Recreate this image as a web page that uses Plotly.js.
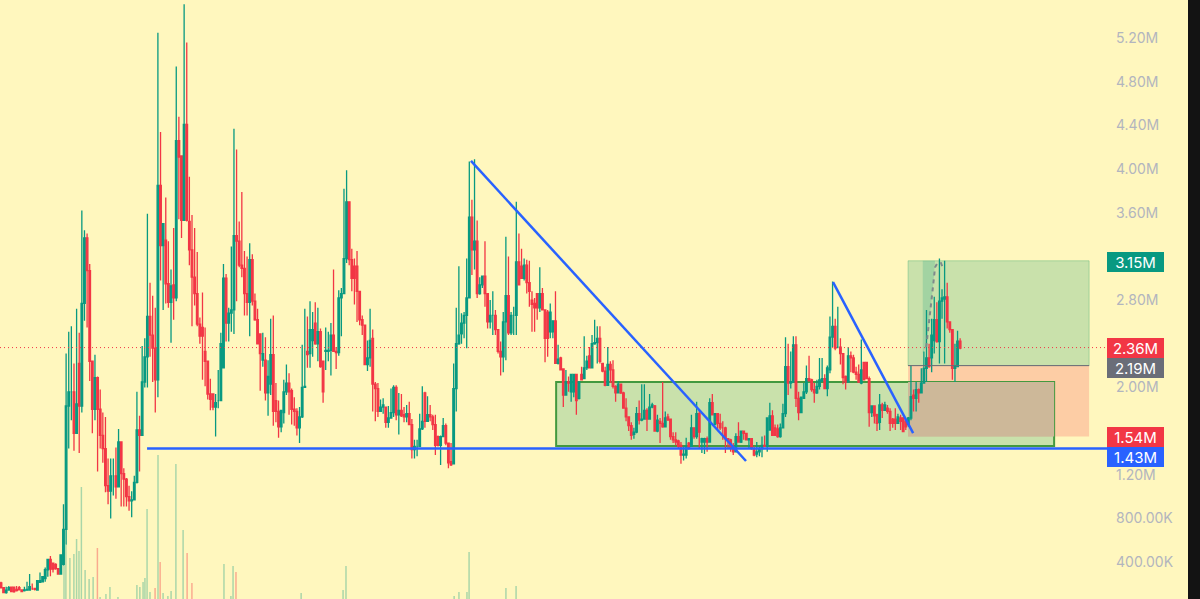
<!DOCTYPE html>
<html><head><meta charset="utf-8">
<script src="https://cdn.plot.ly/plotly-3.0.1.min.js"></script>
<style>html,body{margin:0;padding:0;background:#131313;overflow:hidden}#c{width:1188px;height:599px}</style></head>
<body><div id="c"></div>
<script>
// candle rows are [open, high, low, close], in millions
const earlyBase = [[.20,.21,.155,.155],[.155,.16,.11,.11],[.11,.165,.10,.134],[.134,.17,.134,.155],[.16,.165,.12,.12],[.16,.165,.11,.12],[.14,.17,.12,.13],[.155,.17,.13,.135],[.135,.14,.12,.12],[.13,.165,.12,.135],[.135,.21,.125,.14],[.134,.28,.134,.165],[.15,.195,.134,.15],[.15,.155,.13,.14],[.134,.22,.134,.22],[.205,.295,.205,.22],[.21,.256,.21,.256],[.24,.34,.21,.32],[.32,.42,.256,.415],[.415,.445,.26,.325],[.38,.38,.295,.325],[.37,.38,.32,.33],[.33,.33,.28,.28],[.28,.455,.28,.455]];
const firstPeaks = [[.37,.92,.36,.69],[.69,2.30,.55,1.82],[1.82,2.50,1.43,1.95],[1.95,2.55,1.69,1.95],[1.95,2.21,1.41,1.57],[1.57,2.71,1.57,1.84],[2.21,2.49,1.39,1.82],[1.82,3.61,1.76,2.76],[2.76,3.43,2.60,3.36],[3.36,3.40,2.54,3.06],[3.06,3.12,2.05,2.23],[2.23,2.23,1.57,1.79],[1.79,2.29,1.69,2.08],[2.08,2.09,1.22,1.79],[1.79,1.97,1.43,1.55],[1.55,1.76,1.30,1.43],[1.43,1.72,1.03,1.09],[1.09,1.34,.92,1.04],[1.04,1.34,.79,1.18],[1.18,1.34,1.0,1.18],[1.18,1.44,.97,1.08],[1.08,1.61,1.08,1.49],[1.49,1.49,.90,1.20],[1.20,1.25,.90,1.15],[1.15,1.16,.90,.99],[.99,1.09,.86,.95],[.95,1.04,.80,.96],[.96,1.18,.96,1.12],[1.12,1.95,1.11,1.60],[1.60,1.73,1.22,1.55],[1.55,2.37,1.55,2.04],[2.04,2.44,1.99,2.27],[2.27,3.58,1.99,2.64],[2.64,2.95,2.27,2.47],[2.47,2.83,2.04,2.35],[2.35,2.72,1.76,2.06],[2.06,5.24,1.90,3.84],[3.84,4.33,2.97,3.29],[3.29,3.49,2.70,3.49],[3.34,3.73,2.76,2.94],[2.94,3.33,2.72,2.77],[2.77,3.07,2.40,2.92],[2.93,3.45,2.61,2.81],[2.81,4.93,2.78,4.25],[4.25,4.47,3.53,4.10],[4.11,4.11,3.36,3.52],[3.52,5.50,3.52,4.40],[4.40,5.15,3.51,3.52],[3.51,3.92,3.11,3.25],[3.25,3.57,2.55,3.0],[3.0,3.45,2.74,2.85],[2.85,3.23,2.55,2.57],[2.57,2.63,2.39,2.46],[2.54,2.86,2.06,2.46],[2.32,2.54,2.0,2.23],[2.23,2.23,1.88,1.93],[1.93,2.07,1.78,1.88],[1.93,1.93,1.78,1.81],[1.81,1.93,1.54,1.85],[1.87,2.15,1.80,1.87],[1.87,2.49,1.87,2.39],[2.17,3.12,2.17,2.99],[2.99,3.03,2.41,2.58],[2.58,2.72,2.41,2.67],[2.67,3.28,2.5,2.70],[2.70,4.36,2.48,3.38],[3.38,4.17,2.78,3.33],[3.33,3.51,3.09,3.11],[3.11,3.78,3.0,3.08],[3.08,3.24,2.65,2.85],[2.85,3.19,2.65,2.77],[2.77,3.31,2.46,3.16],[3.16,3.21,2.74,2.78],[2.78,2.85,2.60,2.61],[2.61,2.71,2.39,2.39],[2.48,2.48,1.96,2.30],[2.24,2.49,2.18,2.30],[2.24,2.45,1.87,1.94],[1.94,2.24,1.73,2.09],[2.02,2.62,1.92,2.29],[2.29,2.65,1.64,1.77],[1.87,2.03,1.67,1.77],[1.77,1.87,1.53,1.63],[1.63,1.78,1.58,1.78],[1.76,2.06,1.66,1.95],[1.95,2.20,1.92,2.03],[2.03,2.12,1.74,1.95],[1.96,1.98,1.65,1.79],[1.79,1.90,1.64,1.77],[1.77,1.80,1.55,1.62],[1.62,1.81,1.48,1.72]];
const middleSwings = [[1.72,2.38,1.71,1.99],[1.99,2.71,1.99,2.0],[2.32,2.64,2.17,2.29],[2.30,2.78,2.17,2.52],[2.42,2.68,2.27,2.52],[2.58,2.77,2.38,2.39],[2.39,2.72,2.23,2.50],[2.50,2.53,2.17,2.18],[2.23,2.23,1.85,1.95],[2.32,2.54,2.15,2.33],[2.32,2.50,2.23,2.33],[2.33,2.58,2.10,2.47],[2.47,3.07,2.32,2.32],[2.32,2.36,2.16,2.31],[2.31,2.88,2.28,2.81],[2.81,2.90,2.46,2.85],[2.85,3.81,2.85,3.17],[3.17,3.98,3.13,3.69],[3.69,3.69,3.11,3.16],[3.16,3.26,2.87,2.99],[3.10,3.17,2.75,2.99],[3.10,3.24,2.59,2.87],[2.87,2.87,2.56,2.61],[2.61,2.65,2.47,2.56],[2.56,2.56,2.2,2.20],[2.20,2.42,2.14,2.26],[2.26,2.71,2.18,2.42],[2.44,2.52,1.77,2.02],[2.02,2.04,1.68,1.98],[1.98,2.03,1.72,1.77],[1.77,1.88,1.77,1.81],[1.81,1.89,1.75,1.83],[1.81,1.81,1.62,1.67],[1.67,1.82,1.62,1.71],[1.71,1.98,1.71,1.76],[1.76,2.01,1.72,1.99],[1.99,2.01,1.69,1.74],[1.74,1.94,1.56,1.78],[1.78,1.93,1.72,1.73],[1.74,1.81,1.67,1.72],[1.72,1.83,1.67,1.75],[1.75,1.86,1.65,1.65],[1.65,1.70,1.34,1.42],[1.42,1.51,1.34,1.45],[1.45,1.51,1.36,1.45],[1.45,1.75,1.45,1.61],[1.61,2.0,1.6,1.68],[1.94,1.95,1.62,1.68],[1.68,1.91,1.68,1.74],[1.74,1.83,1.68,1.72],[1.72,1.74,1.60,1.65],[1.65,1.74,1.37,1.46],[1.54,1.55,1.45,1.46],[1.46,1.55,1.28,1.54],[1.54,1.71,1.54,1.64],[1.64,1.66,1.46,1.48],[1.48,1.48,1.25,1.30],[1.31,1.48,1.27,1.28],[1.29,2.21,1.29,1.98],[1.98,2.72,1.77,2.39],[2.39,3.10,2.38,2.47],[2.48,2.67,2.39,2.58],[2.58,2.68,2.44,2.65],[2.65,3.17,2.35,2.81],[2.81,4.06,2.81,3.55],[3.55,3.71,3.02,3.25],[3.25,4.08,3.07,3.33],[3.33,3.52,2.81,2.85],[2.85,3.0,2.84,2.93],[2.93,3.01,2.9,3.01],[3.01,3.33,2.73,2.85],[2.85,2.85,2.53,2.59],[2.59,2.79,2.53,2.65],[2.65,2.87,2.47,2.65],[2.65,2.70,2.47,2.52],[2.52,2.52,2.30,2.32],[2.32,2.41,2.10,2.27],[2.27,2.68,2.13,2.59],[2.59,3.37,2.24,2.83],[2.83,3.19,2.47,2.49],[2.49,2.68,2.47,2.65],[2.65,2.73,2.47,2.65],[2.65,3.69,2.47,3.14],[3.14,3.40,2.93,2.93],[3.10,3.26,2.99,2.99],[2.99,3.17,2.97,3.11],[3.11,3.16,2.85,2.95],[2.95,3.15,2.73,2.87],[2.79,2.87,2.5,2.75],[2.76,2.81,2.5,2.72],[2.85,2.85,2.61,2.72],[2.72,3.09,2.68,2.85],[2.85,2.90,2.70,2.70],[2.70,2.70,2.22,2.44],[2.68,2.70,2.27,2.44],[2.50,2.76,2.44,2.68],[2.50,2.60,2.44,2.60],[2.60,2.87,2.21,2.21],[2.21,2.38,2.2,2.25],[2.26,2.27,2.15,2.15],[2.16,2.16,1.81,1.92],[1.92,2.15,1.92,2.04],[2.04,2.09,1.95,2.03],[1.95,2.11,1.86,2.11],[1.95,2.11,1.9,2.11],[2.11,2.11,1.74,1.87],[1.89,2.04,1.88,2.04],[2.11,2.18,2.06,2.06],[2.07,2.46,2.07,2.17],[2.17,2.28,2.15,2.23],[2.28,2.36,2.17,2.17],[2.17,2.47,2.17,2.39],[2.39,2.61,2.38,2.40],[2.40,2.55,2.21,2.44]];
const rangeBase = [[2.44,2.55,2.21,2.23],[2.21,2.21,2.13,2.14],[2.14,2.18,2.0,2.01],[2.01,2.36,2.01,2.20],[2.20,2.23,2.03,2.15],[2.15,2.24,1.98,2.0],[2.0,2.01,1.86,1.94],[1.94,2.05,1.94,2.02],[2.02,2.02,1.93,1.94],[1.94,1.95,1.80,1.80],[1.80,1.89,1.68,1.72],[1.72,1.72,1.59,1.64],[1.64,1.67,1.51,1.55],[1.56,1.62,1.52,1.58],[1.58,1.81,1.57,1.75],[1.75,1.87,1.65,1.69],[1.69,2.02,1.68,1.70],[1.70,2.02,1.70,1.78],[1.78,1.80,1.59,1.70],[1.70,1.93,1.70,1.81],[1.81,1.85,1.80,1.83],[1.82,1.83,1.59,1.59],[1.59,1.74,1.58,1.69],[1.68,1.71,1.48,1.66],[1.66,2.04,1.62,1.63],[1.63,1.77,1.63,1.71],[1.72,1.75,1.69,1.69],[1.70,1.70,1.51,1.54],[1.54,1.58,1.48,1.51],[1.51,1.58,1.46,1.49],[1.50,1.51,1.43,1.45],[1.46,1.49,1.29,1.37],[1.37,1.45,1.32,1.38],[1.37,1.53,1.34,1.45],[1.48,1.49,1.42,1.44],[1.45,1.74,1.45,1.62],[1.62,1.62,1.52,1.54],[1.54,1.86,1.52,1.75],[1.75,1.78,1.43,1.58],[1.49,1.53,1.39,1.52],[1.49,1.53,1.38,1.52],[1.52,1.54,1.40,1.49],[1.49,1.89,1.49,1.85],[1.85,1.93,1.74,1.74],[1.65,1.75,1.65,1.75],[1.75,1.75,1.61,1.66],[1.66,1.75,1.60,1.62],[1.62,1.68,1.51,1.62],[1.62,1.63,1.39,1.52],[1.52,1.52,1.43,1.51],[1.51,1.52,1.40,1.44],[1.45,1.48,1.37,1.40],[1.40,1.57,1.40,1.54],[1.54,1.67,1.49,1.49],[1.49,1.59,1.48,1.59],[1.59,1.59,1.51,1.57],[1.57,1.57,1.51,1.51],[1.51,1.52,1.43,1.52],[1.52,1.52,1.42,1.43],[1.43,1.45,1.36,1.37],[1.38,1.49,1.35,1.40],[1.40,1.45,1.36,1.43],[1.43,1.54,1.35,1.46],[1.46,1.55,1.45,1.45],[1.45,1.71,1.40,1.71],[1.60,1.85,1.60,1.73],[1.73,1.78,1.55,1.55],[1.62,1.65,1.55,1.55],[1.61,1.65,1.53,1.54],[1.54,1.66,1.53,1.62],[1.62,1.84,1.62,1.75],[1.75,2.45,1.72,2.18],[2.18,2.39,1.92,2.03],[2.03,2.32,1.98,2.04],[2.04,2.46,2.04,2.38],[2.38,2.46,1.81,1.89],[1.89,1.95,1.69,1.76],[1.76,1.90,1.76,1.90],[1.89,2.03,1.89,1.95],[1.95,2.19,1.93,2.07],[2.07,2.28,2.05,2.05],[2.06,2.07,1.95,1.97],[1.97,2.03,1.85,1.94],[1.94,2.06,1.93,2.0],[2.0,2.26,1.97,2.06],[2.05,2.26,2.04,2.07],[2.07,2.11,1.98,1.98],[1.98,2.19,1.91,2.17],[2.15,2.64,2.12,2.45],[2.45,2.96,2.36,2.55],[2.55,2.62,2.33,2.35],[2.36,2.73,2.35,2.36],[2.36,2.44,2.20,2.30],[2.30,2.30,2.02,2.08],[2.09,2.10,1.97,2.04],[2.04,2.36,2.04,2.28],[2.28,2.32,2.13,2.26],[2.26,2.29,2.12,2.13],[2.13,2.18,2.06,2.11],[2.11,2.20,2.03,2.04],[2.03,2.43,2.02,2.15],[2.22,2.22,2.06,2.06],[2.22,2.22,2.07,2.07],[2.07,2.09,1.63,1.76],[1.76,1.82,1.72,1.82],[1.82,1.82,1.66,1.73],[1.74,1.75,1.59,1.66],[1.67,1.93,1.60,1.83],[1.83,1.85,1.71,1.78],[1.78,1.86,1.78,1.83],[1.80,1.83,1.75,1.77],[1.77,1.80,1.59,1.66],[1.70,1.71,1.62,1.66],[1.70,1.80,1.60,1.66],[1.66,1.75,1.66,1.72]];
const lastRally = [[1.71,1.74,1.60,1.68],[1.71,1.72,1.58,1.585],[1.68,1.70,1.60,1.63],[1.65,1.72,1.63,1.71],[1.71,2.19,1.69,1.905],[1.92,1.97,1.77,1.89],[1.89,2.04,1.77,1.97],[1.97,1.98,1.85,1.94],[1.94,2.165,1.94,2.03],[2.03,2.32,2.03,2.165],[2.165,2.70,2.04,2.26],[2.26,2.39,2.17,2.18],[2.26,2.62,2.13,2.47],[2.42,2.82,2.30,2.61],[2.61,2.77,2.40,2.41],[2.41,3.17,2.21,2.78],[2.78,2.89,2.62,2.81],[2.80,3.15,2.21,2.82],[2.82,2.95,2.53,2.59],[2.59,2.59,2.49,2.52],[2.52,2.52,2.06,2.165],[2.165,2.39,2.04,2.19],[2.18,2.51,2.18,2.415],[2.415,2.44,2.34,2.35]];
// first and last bar number of each stretch
const stretchBars = [[0,22.4],[23.4,111.8],[112.8,223.3],[224.3,335.9],[336.9,359.2]];

const volumeBars = [23.6,24.3,25.8,27.3,28.3,29.2,30.1,31.5,33,34.5,36.1,37.1,39.3,40.8,43.8,50.9,52,53.2,53.9,54.7,55.8,57.7,58.8,59.6,60.7,62.5,63.7,65.5,68.2,69.7,71.5,83.5,86.1,86.9,88,112.4,128.1,129.2,169.7,171.5,174.5,175.3,189.1,192.9];
const volumeValues = [54,54,41,45,60,48,112,29,20,22,51,2,5,12,2,14,12,17,21,90,7,11,144,37,6,3,8,135,69,46,16,35,3,33,27,6,9,33,3,7,7,47,11,13];
const volumeDown = [36.1,57.7,59.6,69.7,71.5,88];

// 1.60M, 2.40M and 3.20M sit behind price tags in the reference
const tickValues = [.4,.8,1.2,2,2.8,3.6,4,4.4,4.8,5.2];
const tickLabels = ['400.00K','800.00K','1.20M','2.00M','2.80M','3.60M','4.00M','4.40M','4.80M','5.20M'];
const tagLabels = ['3.15M','2.36M','2.19M','1.54M','1.43M'];
const tagCentres = [3.143,2.355,2.168,1.536,1.353];
const tagColours = ['#089981','#F23645','#6A6D78','#F23645','#2962FF'];

const forecastBar = [346.5,347.3,348.2,349.2,349.8,350.7,352,352.7];
const forecastPrice = [2.36,2.52,2.70,2.95,3.09,3.13,3.13,3.09];
const wedgeBar = [345.2,349.8,349.2,348.2,347.3,346.5,345.2];
const wedgePrice = [3.15,3.15,2.95,2.70,2.52,2.36,2.30];

const trendA = {bars:[176,279], prices:[4.065,1.316]};
const trendB = {bars:[311.6,341.6], prices:[2.955,1.572]};
const rangeBox = {bars:[207.9,394.4], prices:[1.453,2.04]};
const riskBox = {bars:[339.7,407.5], stop:1.54, entry:2.19, target:3.15};
const supportLevel = {from:54.7, price:1.43};
const lastPriceLevel = 2.355;

const segments = [earlyBase,firstPeaks,middleSwings,rangeBase,lastRally];
const xs=[],opens=[],highs=[],lows=[],closes=[];
segments.forEach((rows,s)=>{
  const [a,b]=stretchBars[s];
  rows.forEach((r,j)=>{
    xs.push(a+(b-a)*j/(rows.length-1));
    opens.push(r[0]);highs.push(r[1]);lows.push(r[2]);closes.push(r[3]);
  });
});

const UP='#089981',DOWN='#F23645',BLUE='#2962FF',BG='#FFF7BE';
const traces=[
 {type:'bar',x:volumeBars,y:volumeValues,yaxis:'y2',width:.55,hoverinfo:'skip',
  marker:{color:volumeBars.map(b=>volumeDown.includes(b)?'rgba(242,54,69,.4)':'rgba(8,153,129,.35)'),line:{width:0}}},
 {type:'candlestick',x:xs,open:opens,high:highs,low:lows,close:closes,whiskerwidth:0,
  increasing:{line:{color:UP,width:1.3},fillcolor:UP},decreasing:{line:{color:DOWN,width:1.3},fillcolor:DOWN}},
 {type:'scatter',mode:'lines',x:wedgeBar,y:wedgePrice,fill:'toself',fillcolor:'rgba(8,153,129,.2)',line:{width:0},hoverinfo:'skip'},
 {type:'scatter',mode:'lines',x:forecastBar,y:forecastPrice,line:{color:'#7f8a8c',width:2,dash:'4px,4px'},hoverinfo:'skip'}
];
const seg=(t,l,w)=>({type:'line',xref:'x',yref:'y',x0:t.bars[0],x1:t.bars[1],y0:t.prices[0],y1:t.prices[1],line:{color:l,width:w}});
const shapes=[
 {type:'rect',layer:'below',xref:'x',yref:'y',x0:riskBox.bars[0],x1:riskBox.bars[1],y0:riskBox.entry,y1:riskBox.target,fillcolor:'rgba(76,175,130,.3)',line:{width:1,color:'rgba(76,175,120,.4)'}},
 {type:'rect',layer:'below',xref:'x',yref:'y',x0:riskBox.bars[0],x1:riskBox.bars[1],y0:riskBox.stop,y1:riskBox.entry,fillcolor:'rgba(247,110,110,.3)',line:{width:0}},
 {type:'rect',layer:'below',xref:'x',yref:'y',x0:rangeBox.bars[0],x1:rangeBox.bars[1],y0:rangeBox.prices[0],y1:rangeBox.prices[1],fillcolor:'rgba(76,175,130,.3)',line:{width:2,color:'#43993F'}},
 {type:'rect',layer:'below',xref:'x',yref:'y',x0:riskBox.bars[0],x1:rangeBox.bars[1],y0:riskBox.stop,y1:rangeBox.prices[1],fillcolor:'#CDB899',line:{width:0}},
 {type:'line',layer:'above',xref:'x',yref:'y',x0:riskBox.bars[0],x1:riskBox.bars[1],y0:riskBox.entry,y1:riskBox.entry,line:{color:'#6A6D78',width:1}},
 {type:'line',layer:'above',xref:'paper',yref:'y',x0:0,x1:1,y0:lastPriceLevel,y1:lastPriceLevel,line:{color:DOWN,width:1,dash:'1px,3px'}},
 {type:'line',layer:'above',xref:'x',yref:'y',x0:supportLevel.from,x1:415,y0:supportLevel.price,y1:supportLevel.price,line:{color:BLUE,width:2.5}},
 seg(trendA,BLUE,2.5),seg(trendB,BLUE,2.5)
];
const annotations=tagLabels.map((t,i)=>({xref:'paper',yref:'y',x:1,y:tagCentres[i],xanchor:'left',yanchor:'middle',text:t,showarrow:false,
  width:57,height:20,bgcolor:tagColours[i],borderpad:0,borderwidth:0,align:'center',font:{family:'Inter, sans-serif',size:15,color:'#FFFFFF'}}));
const layout={width:1188,height:599,margin:{l:0,r:81,t:0,b:0,pad:0},paper_bgcolor:BG,plot_bgcolor:BG,showlegend:false,
  xaxis:{range:[-.375,414.2],visible:false,rangeslider:{visible:false},fixedrange:true},
  yaxis:{range:[.052,5.539],side:'right',tickmode:'array',tickvals:tickValues,ticktext:tickLabels,showgrid:false,zeroline:false,showline:false,ticks:'',ticklabelstandoff:8,ticklabelshift:1,
    tickfont:{family:'Inter, sans-serif',size:14,color:'#B2B5BE'}},
  yaxis2:{range:[0,599],overlaying:'y',visible:false,fixedrange:true},
  boxgap:.12,shapes,annotations};
Plotly.newPlot('c',traces,layout,{displayModeBar:false,staticPlot:true});
</script></body></html>
